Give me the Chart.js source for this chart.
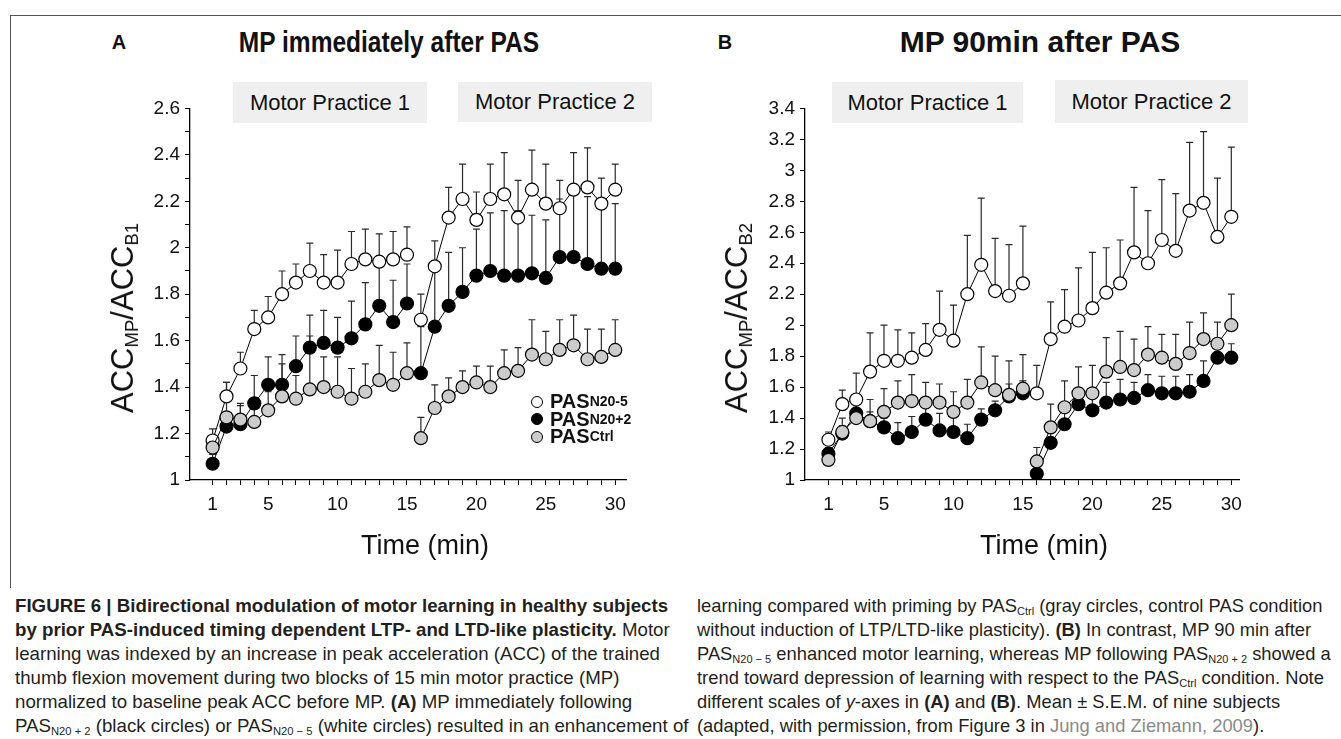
<!DOCTYPE html>
<html>
<head>
<meta charset="utf-8">
<script src="https://cdn.jsdelivr.net/npm/chart.js@4.4.0/dist/chart.umd.min.js"></script>
<style>
  body { margin: 0; width: 1341px; height: 739px; background: #fff; position: relative; overflow: hidden;
         font-family: "Liberation Sans", Arial, sans-serif; color: #111; }
  .abs { position: absolute; }
  .center { transform: translate(-50%, -50%); white-space: nowrap; }
  .frame-top { left: 10px; top: 15px; width: 1331px; border-top: 1px solid #555; }
  .frame-left { left: 10px; top: 15px; height: 573px; border-left: 1px solid #555; }
  .panel { font-weight: bold; font-size: 20px; }
  .title { font-weight: bold; font-size: 30px; }
  .block { background: #efefef; font-size: 22px; display: flex; align-items: center; justify-content: center; }
  .ytitle { font-size: 31px; transform: translate(-50%, -50%) rotate(-90deg); white-space: nowrap; }
  .ytitle sub, .caption sub { font-size: 60%; vertical-align: -0.25em; line-height: 0; }
  .xtitle { font-size: 27px; }
  .legend { left: 531px; top: 393px; font-weight: bold; font-size: 20px; line-height: 17.5px; }
  .legend div { display: flex; align-items: center; white-space: nowrap; }
  .legend small { font-size: 14px; }
  .dot { width: 10px; height: 10px; border: 1.2px solid #000; border-radius: 50%; margin-right: 7px; display: inline-block; }
  .caption { top: 594px; font-size: 19px; line-height: 24px; color: #231f20; transform-origin: 0 0; }
  .caption span { white-space: nowrap; }
  .caption .ref { color: #8a8a8a; }
  .box { position: absolute; }
</style>
</head>
<body>
<div class="abs frame-top"></div>
<div class="abs frame-left"></div>

<div class="abs panel center" style="left:119px; top:42px;">A</div>
<div class="abs title center fit" data-w="300" style="left:389px; top:42px;">MP immediately after PAS</div>
<div class="abs panel center" style="left:725px; top:42px;">B</div>
<div class="abs title center fit" data-w="281" style="left:1040px; top:42px;">MP 90min after PAS</div>

<div class="box" id="boxA" style="left:100px; top:92px; width:534px; height:438px;"><canvas id="chartA"></canvas></div>
<div class="box" id="boxB" style="left:715px; top:92px; width:535px; height:438px;"><canvas id="chartB"></canvas></div>

<div class="abs block" style="left:233px; top:82px; width:194px; height:41px;">Motor Practice 1</div>
<div class="abs block" style="left:458px; top:82px; width:194px; height:40px;">Motor Practice 2</div>
<div class="abs block" style="left:832px; top:82px; width:191px; height:41px;">Motor Practice 1</div>
<div class="abs block" style="left:1055px; top:80px; width:193px; height:43px;">Motor Practice 2</div>

<div class="abs ytitle" style="left:123px; top:318px;">ACC<sub>MP</sub>/ACC<sub>B1</sub></div>
<div class="abs ytitle" style="left:737px; top:318px;">ACC<sub>MP</sub>/ACC<sub>B2</sub></div>
<div class="abs xtitle center" style="left:425px; top:545px;">Time (min)</div>
<div class="abs xtitle center" style="left:1044px; top:545px;">Time (min)</div>

<div class="abs legend">
  <div><span class="dot" style="background:#fff"></span>PAS<small>N20-5</small></div>
  <div><span class="dot" style="background:#000"></span>PAS<small>N20+2</small></div>
  <div><span class="dot" style="background:#ccc"></span>PAS<small>Ctrl</small></div>
</div>

<div class="abs caption" id="capLeft" data-w="653" style="left:15px;">
  <div><span><b>FIGURE 6 | Bidirectional modulation of motor learning in healthy subjects</b></span></div>
  <div><span><b>by prior PAS-induced timing dependent LTP- and LTD-like plasticity.</b> Motor</span></div>
  <div><span>learning was indexed by an increase in peak acceleration (ACC) of the trained</span></div>
  <div><span>thumb flexion movement during two blocks of 15 min motor practice (MP)</span></div>
  <div><span>normalized to baseline peak ACC before MP. <b>(A)</b> MP immediately following</span></div>
  <div><span>PAS<sub>N20 + 2</sub> (black circles) or PAS<sub>N20 − 5</sub> (white circles) resulted in an enhancement of</span></div>
</div>
<div class="abs caption" id="capRight" data-w="625" style="left:697px;">
  <div><span>learning compared with priming by PAS<sub>Ctrl</sub> (gray circles, control PAS condition</span></div>
  <div><span>without induction of LTP/LTD-like plasticity). <b>(B)</b> In contrast, MP 90 min after</span></div>
  <div><span>PAS<sub>N20 − 5</sub> enhanced motor learning, whereas MP following PAS<sub>N20 + 2</sub> showed a</span></div>
  <div><span>trend toward depression of learning with respect to the PAS<sub>Ctrl</sub> condition. Note</span></div>
  <div><span>different scales of <i>y</i>-axes in <b>(A)</b> and <b>(B)</b>. Mean ± S.E.M. of nine subjects</span></div>
  <div><span>(adapted, with permission, from Figure 3 in <span class="ref">Jung and Ziemann, 2009</span>).</span></div>
</div>

<script>
const minutes = [1,2,3,4,5,6,7,8,9,10,11,12,13,14,15,16,17,18,19,20,21,22,23,24,25,26,27,28,29,30];
const xLabelMinutes = [1, 5, 10, 15, 20, 25, 30];
const yMajorA = [1, 1.2, 1.4, 1.6, 1.8, 2, 2.2, 2.4, 2.6];
const yMinorA = [1.1, 1.3, 1.5, 1.7, 1.9, 2.1, 2.3, 2.5];
const yMajorB = [1, 1.2, 1.4, 1.6, 1.8, 2, 2.2, 2.4, 2.6, 2.8, 3, 3.2, 3.4];

// A: MP immediately after PAS (mean, +SEM)
const aN20m5 = [1.17,1.36,1.48,1.65,1.70,1.80,1.85,1.90,1.85,1.85,1.93,1.95,1.94,1.95,1.97,
                1.69,1.92,2.13,2.21,2.12,2.21,2.23,2.13,2.25,2.19,2.17,2.25,2.26,2.19,2.25];
const aN20m5Sem = [0.05,0.06,0.07,0.08,0.09,0.10,0.08,0.12,0.12,0.14,0.14,0.13,0.12,0.12,0.12,
                   0.11,0.11,0.13,0.15,0.12,0.15,0.18,0.16,0.17,0.17,0.12,0.16,0.17,0.11,0.11];
const aN20p2 = [1.07,1.23,1.24,1.33,1.41,1.41,1.49,1.57,1.59,1.57,1.61,1.67,1.75,1.68,1.76,
                1.46,1.66,1.75,1.81,1.88,1.90,1.88,1.88,1.89,1.87,1.96,1.96,1.93,1.91,1.91];
const aN20p2Sem = [0.04,0.05,0.09,0.12,0.12,0.13,0.13,0.14,0.14,0.13,0.16,0.18,0.19,0.18,0.17,
                   0.20,0.27,0.23,0.19,0.20,0.25,0.28,0.28,0.25,0.25,0.25,0.29,0.29,0.27,0.28];
const aCtrl = [1.14,1.27,1.26,1.25,1.30,1.36,1.35,1.39,1.40,1.38,1.35,1.38,1.43,1.41,1.46,
               1.18,1.31,1.36,1.40,1.42,1.40,1.46,1.47,1.54,1.52,1.56,1.58,1.52,1.53,1.56];
const aCtrlSem = [0.03,0.15,0.06,0.08,0.08,0.14,0.10,0.23,0.13,0.15,0.13,0.12,0.15,0.14,0.13,
                  0.09,0.10,0.08,0.07,0.07,0.09,0.10,0.10,0.15,0.12,0.13,0.13,0.13,0.12,0.13];

// B: MP 90min after PAS
const bN20m5 = [1.26,1.49,1.52,1.70,1.77,1.77,1.79,1.84,1.97,1.90,2.20,2.39,2.22,2.19,2.27,
                1.56,1.91,1.99,2.03,2.11,2.21,2.27,2.47,2.40,2.55,2.48,2.74,2.79,2.57,2.70];
const bN20m5Sem = [0.05,0.09,0.17,0.25,0.23,0.20,0.16,0.17,0.25,0.23,0.38,0.43,0.34,0.33,0.37,
                   0.18,0.24,0.24,0.34,0.36,0.29,0.28,0.42,0.34,0.39,0.37,0.44,0.46,0.38,0.45];
const bN20p2 = [1.17,1.30,1.43,1.38,1.34,1.27,1.31,1.39,1.32,1.31,1.27,1.39,1.45,1.54,1.56,
                1.04,1.24,1.36,1.49,1.45,1.50,1.52,1.53,1.58,1.56,1.56,1.57,1.64,1.79,1.79];
const bN20p2Sem = [0.04,0.05,0.07,0.06,0.06,0.10,0.10,0.08,0.11,0.12,0.09,0.07,0.06,0.08,0.08,
                   0.05,0.09,0.10,0.09,0.10,0.13,0.13,0.10,0.10,0.11,0.11,0.11,0.13,0.08,0.09];
const bCtrl = [1.13,1.31,1.40,1.38,1.44,1.50,1.51,1.50,1.50,1.44,1.50,1.63,1.58,1.55,1.59,
               1.12,1.34,1.47,1.56,1.56,1.70,1.73,1.71,1.81,1.79,1.75,1.82,1.91,1.88,2.00];
const bCtrlSem = [0.03,0.09,0.10,0.14,0.15,0.14,0.17,0.13,0.12,0.13,0.15,0.23,0.22,0.22,0.22,
                  0.09,0.15,0.17,0.17,0.18,0.22,0.23,0.20,0.18,0.15,0.19,0.20,0.17,0.14,0.20];

// upper error bars, drawn under the points
const errorBars = {
  id: 'errorBars',
  beforeDatasetsDraw(chart) {
    const ctx = chart.ctx;
    const yScale = chart.scales.y;
    ctx.save();
    ctx.strokeStyle = '#2a2a2a';
    ctx.lineWidth = 1.2;
    chart.data.datasets.forEach((ds, i) => {
      const meta = chart.getDatasetMeta(i);
      meta.data.forEach((pt, j) => {
        const top = yScale.getPixelForValue(ds.data[j].y + ds.sem[j]);
        ctx.beginPath();
        ctx.moveTo(pt.x, pt.y);
        ctx.lineTo(pt.x, top);
        ctx.moveTo(pt.x - 3.5, top);
        ctx.lineTo(pt.x + 3.5, top);
        ctx.stroke();
      });
    });
    ctx.restore();
  }
};

function makeSets(mean, sem, fill) {
  // two practice blocks, not joined
  return [[0, 15], [15, 30]].map(([s, e]) => ({
    data: minutes.slice(s, e).map((m, i) => ({ x: m, y: mean[s + i] })),
    sem: sem.slice(s, e),
    borderColor: '#000',
    borderWidth: 1,
    pointBackgroundColor: fill,
    pointBorderColor: '#000',
    pointBorderWidth: 1.2,
    pointRadius: 6.5,
    pointHoverRadius: 6.5,
    tension: 0,
    fill: false
  }));
}

const tickFont = { family: '"Liberation Sans", Arial, sans-serif', size: 19 };

function makeChart(id, sets, yMax, yTicks, yLabels, xMin, xMax) {
  return new Chart(document.getElementById(id), {
    type: 'line',
    data: { datasets: sets },
    options: {
      responsive: true,
      maintainAspectRatio: false,
      animation: false,
      events: [],
      layout: { padding: 0 },
      plugins: { legend: { display: false }, tooltip: { enabled: false } },
      scales: {
        x: {
          type: 'linear',
          min: xMin,
          max: xMax,
          afterBuildTicks: s => { s.ticks = minutes.map(v => ({ value: v })); },
          afterFit: s => { s.height = 50; },
          ticks: {
            autoSkip: false, maxRotation: 0, padding: 8, color: '#111', font: tickFont,
            callback: v => xLabelMinutes.includes(v) ? String(v) : ''
          },
          grid: { drawOnChartArea: false, drawTicks: true, tickLength: 5, color: '#000', lineWidth: 1 },
          border: { color: '#000', width: 1.3 }
        },
        y: {
          min: 1,
          max: yMax,
          afterBuildTicks: s => { s.ticks = yTicks.map(v => ({ value: v })); },
          afterFit: s => { s.width = 90; },
          ticks: {
            autoSkip: false, padding: 5, color: '#111', font: tickFont,
            callback: v => yLabels.includes(v) ? String(+v.toFixed(1)) : ''
          },
          grid: { drawOnChartArea: false, drawTicks: true, tickLength: 5, color: '#000', lineWidth: 1 },
          border: { color: '#000', width: 1.3 }
        }
      }
    },
    plugins: [errorBars]
  });
}

// gray on top, then black, white underneath
const setsA = [].concat(
  makeSets(aCtrl, aCtrlSem, '#cccccc'),
  makeSets(aN20p2, aN20p2Sem, '#000000'),
  makeSets(aN20m5, aN20m5Sem, '#ffffff')
);
const setsB = [].concat(
  makeSets(bCtrl, bCtrlSem, '#cccccc'),
  makeSets(bN20p2, bN20p2Sem, '#000000'),
  makeSets(bN20m5, bN20m5Sem, '#ffffff')
);

const yTicksA = yMajorA.concat(yMinorA).sort((a, b) => a - b);
makeChart('chartA', setsA, 2.6, yTicksA, yMajorA, -0.63, 30.78);
makeChart('chartB', setsB, 3.4, yMajorB, yMajorB, -0.685, 30.56);

// squeeze titles and caption columns to the measured widths
document.querySelectorAll('.fit').forEach(el => {
  const k = Number(el.dataset.w) / el.offsetWidth;
  el.style.transform = 'translate(-50%, -50%) scaleX(' + k + ')';
});
['capLeft', 'capRight'].forEach(id => {
  const col = document.getElementById(id);
  const first = col.querySelector('span');
  const k = Number(col.dataset.w) / first.offsetWidth;
  col.style.transform = 'scaleX(' + k + ')';
});
</script>
</body>
</html>
